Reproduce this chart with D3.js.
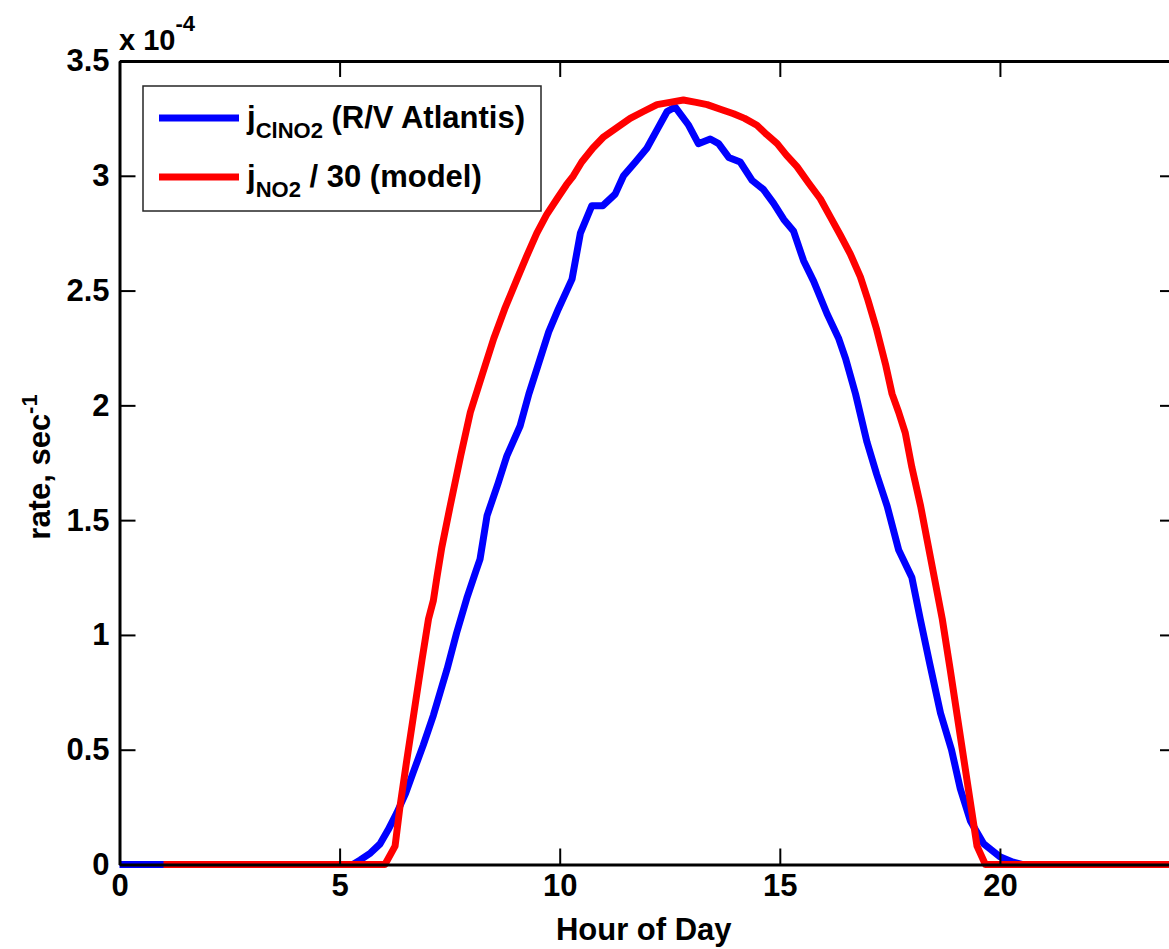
<!DOCTYPE html>
<html>
<head>
<meta charset="utf-8">
<script src="https://cdn.jsdelivr.net/npm/d3@7"></script>
<style>
  html, body { margin: 0; padding: 0; background: #fff; overflow: hidden; }
  svg { display: block; }
  text { font-family: "Liberation Sans", Arial, Helvetica, sans-serif; font-weight: bold; fill: #000; }
</style>
</head>
<body>
<svg id="chart" width="1169" height="949"></svg>
<script>
// ---- data ----
const xTickValues = [0, 5, 10, 15, 20];
const xTickLabels = ["0", "5", "10", "15", "20"];
const yTickValues = [0, 0.5, 1, 1.5, 2, 2.5, 3, 3.5];
const yTickLabels = ["0", "0.5", "1", "1.5", "2", "2.5", "3", "3.5"];

// j_ClNO2 (R/V Atlantis), units of 1e-4 s^-1
const blueHours = [0, 5.3, 5.47, 5.7, 5.92, 6.1, 6.3, 6.5, 6.67, 6.9, 7.13, 7.3, 7.44, 7.66, 7.89, 8.1, 8.19, 8.35, 8.6, 8.8, 9.1, 9.3, 9.5, 9.75, 9.97, 10.28, 10.47, 10.73, 10.98, 11.26, 11.45, 11.72, 11.98, 12.21, 12.44, 12.62, 12.93, 13.15, 13.42, 13.61, 13.84, 14.1, 14.37, 14.63, 14.86, 15.09, 15.31, 15.54, 15.77, 16.07, 16.34, 16.5, 16.72, 16.98, 17.2, 17.44, 17.7, 18.0, 18.19, 18.4, 18.65, 18.9, 19.1, 19.33, 19.63, 20.0, 20.3, 20.5, 24];
const blueValues = [0, 0, 0.02, 0.05, 0.09, 0.15, 0.225, 0.31, 0.4, 0.52, 0.65, 0.76, 0.85, 1.01, 1.16, 1.28, 1.33, 1.52, 1.66, 1.78, 1.91, 2.05, 2.17, 2.32, 2.42, 2.55, 2.75, 2.87, 2.87, 2.92, 3.0, 3.06, 3.12, 3.2, 3.28, 3.3, 3.22, 3.14, 3.16, 3.14, 3.08, 3.06, 2.98, 2.94, 2.88, 2.81, 2.76, 2.63, 2.54, 2.40, 2.29, 2.2, 2.05, 1.84, 1.7, 1.56, 1.37, 1.25, 1.07, 0.88, 0.66, 0.5, 0.33, 0.19, 0.09, 0.034, 0.01, 0, 0];

// j_NO2 / 30 (model)
const redHours = [1, 6.03, 6.26, 6.37, 6.53, 6.72, 6.87, 7.02, 7.13, 7.21, 7.32, 7.51, 7.75, 7.97, 8.25, 8.5, 8.75, 9.03, 9.25, 9.48, 9.7, 9.94, 10.15, 10.31, 10.5, 10.75, 11.0, 11.3, 11.6, 11.9, 12.21, 12.5, 12.81, 13.1, 13.35, 13.65, 13.95, 14.2, 14.48, 14.7, 14.94, 15.15, 15.39, 15.65, 15.92, 16.15, 16.38, 16.6, 16.83, 17.0, 17.2, 17.4, 17.55, 17.7, 17.85, 18.0, 18.2, 18.35, 18.52, 18.69, 18.87, 19.48, 19.67, 24];
const redValues = [0, 0, 0.08, 0.25, 0.46, 0.70, 0.89, 1.07, 1.15, 1.25, 1.38, 1.56, 1.78, 1.97, 2.14, 2.29, 2.42, 2.55, 2.65, 2.75, 2.83, 2.9, 2.96, 3.0, 3.06, 3.12, 3.17, 3.21, 3.25, 3.28, 3.31, 3.32, 3.33, 3.32, 3.31, 3.29, 3.27, 3.25, 3.22, 3.18, 3.14, 3.09, 3.04, 2.97, 2.90, 2.82, 2.74, 2.66, 2.56, 2.46, 2.33, 2.18, 2.05, 1.97, 1.88, 1.73, 1.56, 1.41, 1.24, 1.07, 0.85, 0.08, 0, 0];

// ---- layout ----
const svg = d3.select("#chart");
const x = d3.scaleLinear().domain([0, 24]).range([119.5, 1176]);
const y = d3.scaleLinear().domain([0, 3.5]).range([864.5, 61]);
const TICK = 16;
const FS = 31, FS_SMALL = 22;

const blueData = blueHours.map((h, i) => [h, blueValues[i]]);
const redData = redHours.map((h, i) => [h, redValues[i]]);

const line = d3.line().x(d => x(d[0])).y(d => y(d[1]));

// series
svg.append("path").datum(blueData).attr("d", line)
  .attr("fill", "none").attr("stroke", "#0000ff").attr("stroke-width", 7)
  .attr("stroke-linejoin", "round");
svg.append("path").datum(redData).attr("d", line)
  .attr("fill", "none").attr("stroke", "#ff0000").attr("stroke-width", 7)
  .attr("stroke-linejoin", "round");

// axes
function styleAxis(g) {
  g.select(".domain").attr("stroke", "#000").attr("stroke-width", 3);
  g.selectAll(".tick line").attr("stroke", "#000").attr("stroke-width", 2);
  g.selectAll(".tick text").attr("font-size", FS).attr("font-family", "Liberation Sans, Arial, sans-serif").attr("font-weight", "bold").attr("fill", "#000");
}

const gx = svg.append("g").attr("transform", `translate(0,${y(0)})`)
  .call(d3.axisBottom(x).tickValues(xTickValues).tickFormat((d, i) => xTickLabels[i])
    .tickSizeInner(-TICK).tickSizeOuter(0).tickPadding(9));
styleAxis(gx);

const gxt = svg.append("g").attr("transform", `translate(0,${y(3.5)})`)
  .call(d3.axisTop(x).tickValues(xTickValues).tickFormat("")
    .tickSizeInner(-TICK).tickSizeOuter(0));
styleAxis(gxt);

const gy = svg.append("g").attr("transform", `translate(${x(0)},0)`)
  .call(d3.axisLeft(y).tickValues(yTickValues).tickFormat((d, i) => yTickLabels[i])
    .tickSizeInner(-TICK).tickSizeOuter(0).tickPadding(10));
styleAxis(gy);

const gyr = svg.append("g").attr("transform", `translate(${x(24)},0)`)
  .call(d3.axisRight(y).tickValues(yTickValues).tickFormat("")
    .tickSizeInner(-TICK).tickSizeOuter(0));
styleAxis(gyr);

// exponent label
const expText = svg.append("text").attr("x", 119).attr("y", 50).attr("font-size", 29);
expText.append("tspan").text("x 10");
expText.append("tspan").attr("dy", -19).attr("font-size", FS_SMALL).text("-4");

// axis titles
svg.append("text").attr("x", (x(0) + x(24)) / 2 - 4).attr("y", 940)
  .attr("text-anchor", "middle").attr("font-size", FS).text("Hour of Day");

const yl = svg.append("text")
  .attr("transform", `translate(50,467) rotate(-90)`)
  .attr("text-anchor", "middle").attr("font-size", FS);
yl.append("tspan").text("rate, sec");
yl.append("tspan").attr("dy", -13).attr("font-size", FS_SMALL).text("-1");

// legend
const lg = svg.append("g");
lg.append("rect").attr("x", 143).attr("y", 86).attr("width", 398).attr("height", 125)
  .attr("fill", "#fff").attr("stroke", "#262626").attr("stroke-width", 1.5);
lg.append("line").attr("x1", 159).attr("x2", 239).attr("y1", 118).attr("y2", 118)
  .attr("stroke", "#0000ff").attr("stroke-width", 7);
lg.append("line").attr("x1", 159).attr("x2", 239).attr("y1", 177).attr("y2", 177)
  .attr("stroke", "#ff0000").attr("stroke-width", 7);
const t1 = lg.append("text").attr("x", 247).attr("y", 128).attr("font-size", FS);
t1.append("tspan").text("j");
t1.append("tspan").attr("dy", 10).attr("font-size", FS_SMALL).text("ClNO2");
t1.append("tspan").attr("dy", -10).text(" (R/V Atlantis)");
const t2 = lg.append("text").attr("x", 247).attr("y", 187).attr("font-size", FS);
t2.append("tspan").text("j");
t2.append("tspan").attr("dy", 10).attr("font-size", FS_SMALL).text("NO2");
t2.append("tspan").attr("dy", -10).text(" / 30 (model)");
</script>
</body>
</html>
